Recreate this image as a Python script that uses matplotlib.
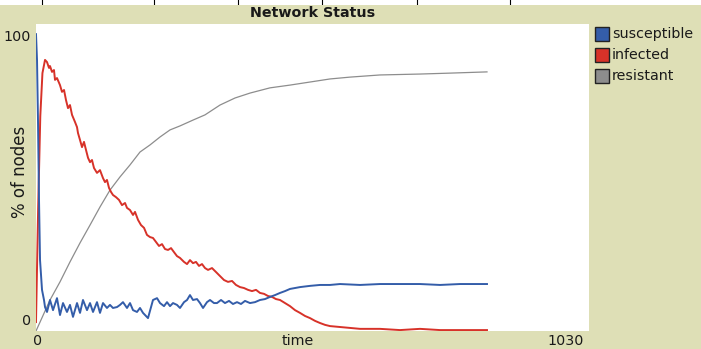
import matplotlib
matplotlib.use("Agg")
import matplotlib.pyplot as plt
from matplotlib.patches import Rectangle

# ---------------- data ----------------
title = "Network Status"
x_label = "time"
y_label = "% of nodes"
x_range = (0, 1030)
y_range = (0, 100)
series_names = ["susceptible", "infected", "resistant"]
series_colors = ["#345DA9", "#D73229", "#8D8D8D"]

susceptible_t = [0, 1.9, 3.7, 5.6, 7.5, 11.2, 14.9, 16.8, 20.5, 26.1, 31.7, 39.1, 44.7, 50.3,
                 57.7, 63.3, 68.9, 76.4, 82.0, 87.5, 95.0, 100.6, 106.2, 113.6, 119.2, 124.8,
                 132.2, 137.8, 143.4, 150.9, 156.5, 162.0, 169.5, 175.1, 180.7, 188.1, 193.7,
                 199.3, 208.6, 217.9, 225.4, 231.0, 238.4, 244.0, 249.6, 255.2, 262.6, 268.2,
                 275.7, 281.3, 286.8, 292.4, 299.9, 305.5, 311.1, 318.5, 324.1, 331.5, 337.1,
                 344.6, 352.0, 359.5, 366.9, 374.4, 381.8, 389.3, 398.6, 407.9, 417.2, 426.5,
                 435.8, 445.2, 454.5, 463.8, 473.1, 482.4, 491.7, 510.4, 529.0, 547.6, 566.2,
                 603.5, 640.7, 678.0, 715.2, 752.5, 789.7, 840.0]
susceptible_v = [96.7, 88.3, 68.7, 42.7, 23.1, 13.4, 10.1, 7.8, 6.2, 10.1, 6.8, 10.7, 5.2, 9.1,
                 6.2, 8.5, 4.6, 9.1, 5.9, 10.1, 6.8, 9.1, 6.2, 9.4, 5.9, 9.1,
                 7.5, 8.5, 7.5, 7.8, 8.5, 9.4, 7.5, 9.1, 6.8, 6.2, 7.5,
                 5.9, 4.2, 10.1, 10.7, 9.1, 8.1, 9.4, 8.1, 9.1, 8.5, 7.5,
                 9.4, 10.1, 11.7, 10.1, 10.4, 9.1, 7.5, 9.4, 10.1, 9.1, 9.1,
                 10.1, 9.1, 9.8, 8.8, 9.4, 8.8, 9.8, 9.1, 9.4, 10.1, 10.4,
                 11.1, 11.7, 12.4, 13.0, 13.7, 14.0, 14.3, 14.7, 15.0, 15.0, 15.3,
                 15.0, 15.3, 15.3, 15.3, 15.0, 15.3, 15.3]

infected_t = [0, 4, 8, 12, 16.8, 20.5, 24.2, 26.1, 29.8, 33.5, 35.4, 39.1, 44.7, 48.4, 52.2,
              55.9, 59.6, 63.3, 67.1, 72.6, 76.4, 78.2, 82.0, 85.7, 89.4, 93.1, 96.9, 100.6,
              104.3, 108.0, 113.6, 119.2, 124.8, 128.5, 132.2, 136.0, 139.7, 143.4, 149.0,
              154.6, 160.2, 165.8, 169.5, 175.1, 180.7, 184.4, 190.0, 195.6, 201.2, 206.7,
              212.3, 217.9, 223.5, 229.1, 234.7, 240.3, 245.9, 251.5, 257.0, 262.6, 268.2,
              275.7, 281.3, 286.8, 292.4, 298.0, 303.6, 309.2, 314.8, 320.4, 327.8, 335.3,
              342.7, 350.2, 357.6, 365.1, 372.5, 380.0, 387.4, 394.9, 402.3, 409.8, 417.2,
              424.7, 432.1, 439.6, 447.0, 454.5, 463.8, 473.1, 482.4, 491.7, 501.0, 510.4,
              519.7, 529.0, 538.3, 547.6, 566.2, 584.9, 603.5, 640.7, 678.0, 715.2, 752.5,
              789.7, 840.0]
infected_v = [2.9, 40, 70, 84, 88.3, 87.6, 85.7, 86.3, 84.4, 85.0, 81.8, 82.4, 80.1, 77.9, 78.5,
              75.2, 72.6, 73.6, 70.4, 68.1, 66.4, 64.5, 62.2, 59.9, 61.6, 59.0, 56.4, 55.0,
              55.7, 53.1, 51.5, 52.4, 49.8, 48.5, 49.2, 46.6, 45.3, 44.3, 43.6,
              42.7, 41.0, 41.7, 40.1, 39.4, 37.8, 38.8, 36.2, 34.5, 33.6, 31.3,
              30.6, 30.3, 29.0, 27.7, 28.3, 26.7, 26.4, 27.0, 25.7, 24.4, 23.8,
              22.5, 21.8, 23.1, 22.1, 22.5, 21.2, 21.8, 20.5, 19.9, 20.5, 19.2,
              17.9, 16.6, 16.0, 16.3, 15.0, 14.3, 14.0, 13.4, 13.0, 13.4, 12.4,
              12.1, 11.4, 11.1, 10.4, 10.1, 9.1, 8.1, 6.8, 5.9, 4.9, 4.2,
              3.3, 2.6, 2.0, 1.6, 1.3, 1.0, 0.7, 0.7, 0.3, 0.7, 0.3,
              0.3, 0.3]

resistant_t = [0, 7.5, 26.1, 44.7, 63.3, 82.0, 100.6, 119.2, 137.8, 156.5, 175.1, 193.7, 212.3,
               231.0, 249.6, 268.2, 292.4, 314.8, 342.7, 370.7, 398.6, 435.8, 473.1, 510.4,
               547.6, 584.9, 640.7, 715.2, 771.1, 840.0]
resistant_v = [0, 2.9, 10.1, 16.0, 22.5, 28.7, 34.5, 40.4, 45.9, 50.2, 54.1, 58.3, 60.6,
               63.2, 65.5, 66.8, 68.7, 70.4, 73.6, 75.9, 77.5, 79.2, 80.1, 81.1,
               82.1, 82.7, 83.4, 83.7, 84.0, 84.4]

# ---------------- figure ----------------
BG = "#DEDFB6"
W, H = 701, 349
fig = plt.figure(figsize=(W / 100, H / 100), dpi=100, facecolor=BG)

# white strip at the very top (bottom edge of text cropped from above)
top = fig.add_axes([0, 1 - 5 / H, 1, 5 / H])
top.set_facecolor("white")
for s in top.spines.values():
    s.set_visible(False)
top.set_xticks([])
top.set_yticks([])
top.set_xlim(0, W)
top.set_ylim(5, 0)
for px in [42, 154, 238, 322, 417, 510]:
    top.plot([px, px], [0, 4], color="black", lw=0.8)

ax_l, ax_r, ax_t, ax_b = 36, 589, 24, 331
ax = fig.add_axes([ax_l / W, 1 - ax_b / H, (ax_r - ax_l) / W, (ax_b - ax_t) / H])
ax.set_facecolor("white")
for s in ax.spines.values():
    s.set_visible(False)
ax.set_xticks([])
ax.set_yticks([])
ax.set_xlim(*x_range)
ax.set_ylim(*y_range)

ax.plot(resistant_t, resistant_v, color=series_colors[2], lw=0.9)
ax.plot(infected_t, infected_v, color=series_colors[1], lw=1.4)
ax.plot(susceptible_t, susceptible_v, color=series_colors[0], lw=1.4)

txt = dict(fontsize=10.3, color="#1a1a1a", family="DejaVu Sans")
fig.text((ax_l + ax_r) / 2 / W, 1 - 13 / H, title, ha="center", va="center",
         fontweight="bold", **txt)
fig.text(31 / W, 1 - 37 / H, str(y_range[1]), ha="right", va="center", **txt)
fig.text(31 / W, 1 - 321 / H, str(y_range[0]), ha="right", va="center", **txt)
fig.text(38 / W, 1 - 341 / H, str(x_range[0]), ha="center", va="center", **txt)
fig.text(584 / W, 1 - 341 / H, str(x_range[1]), ha="right", va="center", **txt)
fig.text(298 / W, 1 - 341 / H, x_label, ha="center", va="center", **txt)
fig.text(20 / W, 1 - 172 / H, y_label, ha="center", va="center", rotation=90,
         fontsize=12, color="#1a1a1a", family="DejaVu Sans")

# legend
for i, (name, col) in enumerate(zip(series_names, series_colors)):
    cy = 34 + i * 21
    fig.add_artist(Rectangle((595 / W, 1 - (cy + 7) / H), 14 / W, 14 / H,
                             transform=fig.transFigure, facecolor=col,
                             edgecolor="#222222", lw=1.0))
    fig.text(612 / W, 1 - cy / H, name, ha="left", va="center", **txt)

fig.savefig("out.png", dpi=100, facecolor=BG)
